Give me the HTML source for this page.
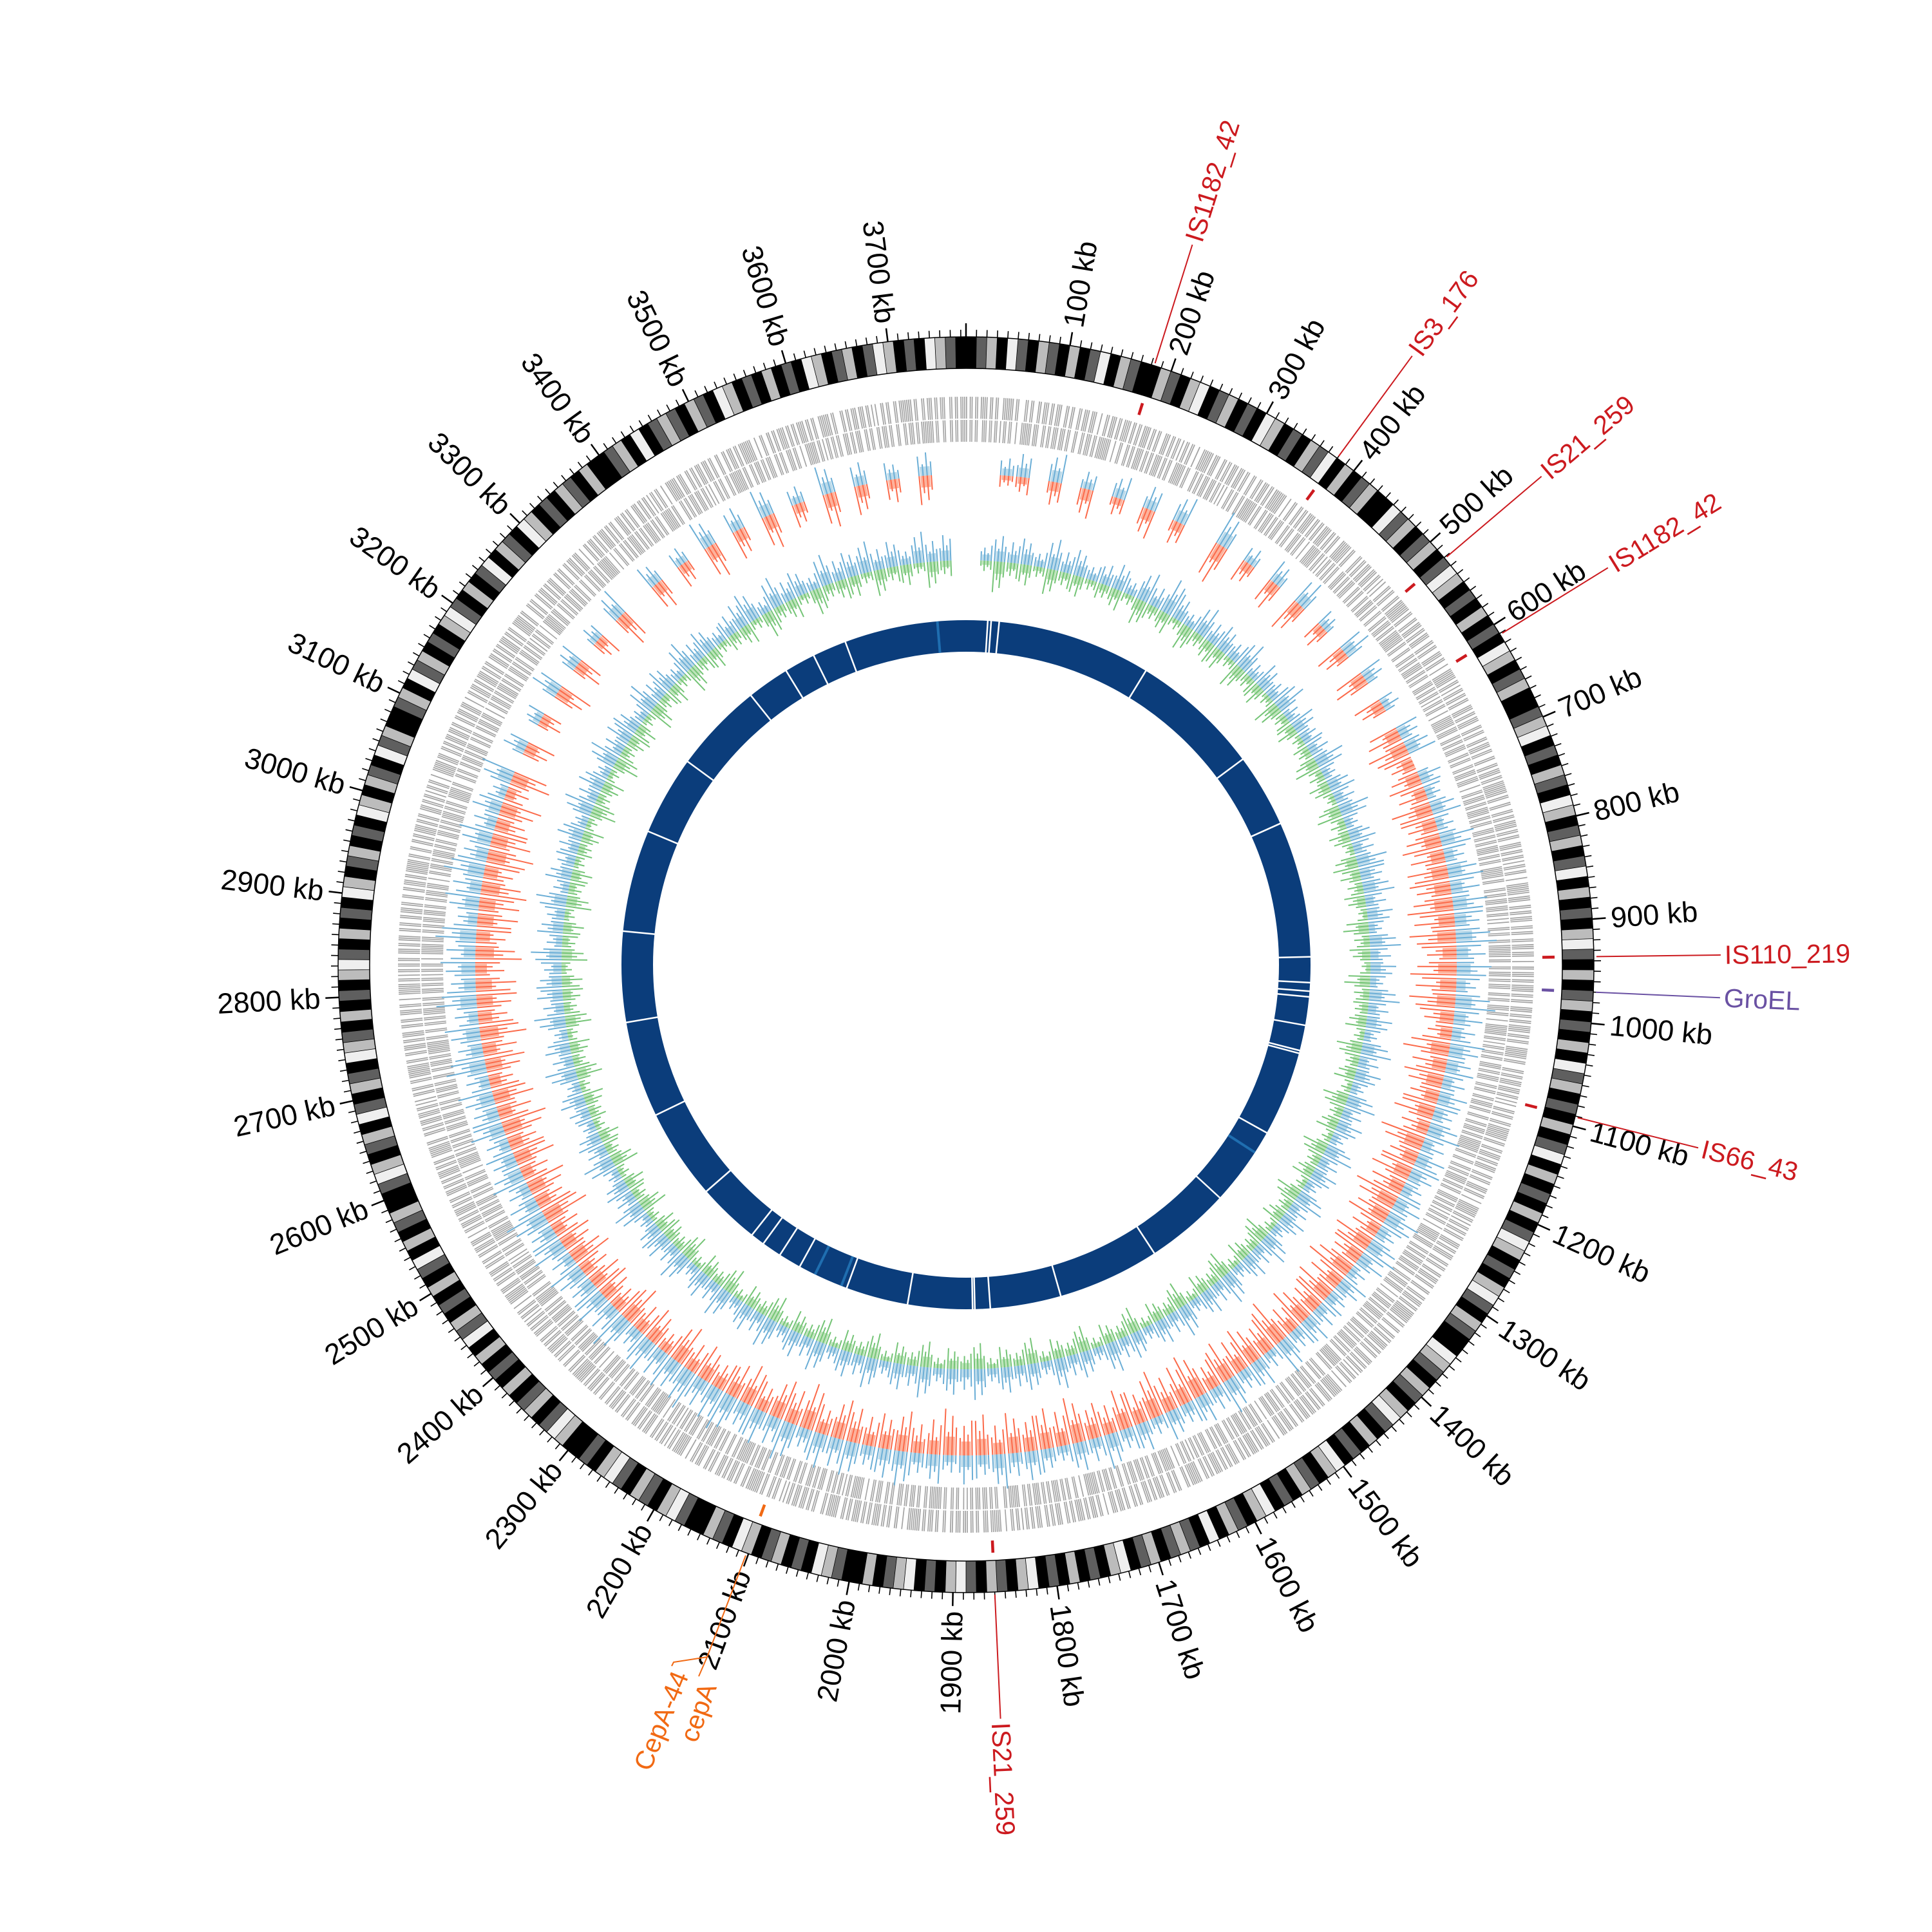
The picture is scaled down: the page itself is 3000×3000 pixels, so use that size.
<!DOCTYPE html>
<html>
<head>
<meta charset="utf-8">
<style>
html,body{margin:0;padding:0;background:#fff;}
svg{display:block;}
text{font-family:"Liberation Sans","DejaVu Sans",sans-serif;}
</style>
</head>
<body>
<svg id="chart" width="3000" height="3000" viewBox="0 0 3000 3000" xmlns="http://www.w3.org/2000/svg">
  <rect x="0" y="0" width="3000" height="3000" fill="#ffffff"/>
  <g id="band-ring"></g>
  <g id="tick-layer"></g>
  <g id="tick-labels"></g>
  <g id="gene-ring"></g>
  <g id="skew-ring"></g>
  <g id="gc-ring"></g>
  <g id="contig-ring"></g>
  <g id="feature-layer"></g>
</svg>
<script>
// ---------------- data ----------------
const genomeLen = 3775; // kb
const tickLabels = [100,200,300,400,500,600,700,800,900,1000,1100,1200,1300,1400,1500,1600,1700,1800,1900,2000,2100,2200,2300,2400,2500,2600,2700,2800,2900,3000,3100,3200,3300,3400,3500,3600,3700];
const bandLevels = "kdgkwdkgdkgkdwkgdkkgdkgwkdgkdkwgkdkgdwkgkdgkkwdgkdgkdwgkdkgk" +
  "dkwgkdgkkdgwkdkgdkwgkdgkdwkgkdkgwdkgkdgkdkgkwdgkdkgkdwkgkdkg" +
  "kdwgkdkgwdkgdkkwgdkgdkgwdkgkdkwgkdgkdkwgkdgkwkdgdkgdkwgkdkgk" +
  "dkwgkdgkdwgkdkwgdkgkkdgwkdkgdkgwkdgkkdwgkdgkdwgkdkkgwdkgdkgk" +
  "dkgkwdgkdkgkdwkgkdgkkdwgkdgkwdkgdkwgdkgkdkgwdkgkdkwgkdgkdkwg" +
  "kgdkwdgkkdgkwdgkdkgwdkgkdwkgdkwgkdkgdkgk" +
  "kdgkwkdgdkgdkwgkdkgkdkwgkdgkdwgkdkwgdk";
const geneFwd = "7685767587675867685776867586765867576867675866758676867586765867576867675867758676857675866758676857768675867658675768676758667586768675867658675768676758677586768576758667586768577686758677";
const geneRev = "6758676857768675867658675768676758667586768675867658675768676758677586768576758667586768577686758676586757686767586675867686758676586757686767586775867685767586675867685776867586765867576867";
const skewPos = "0034050304"+"0405006030"+"4050305040"+"3045043536"+"4656575647"+"5465454645"+"5456465354"+"4546354645"+"4535464534"+"5464535465"+"4656475657"+"6576564756"+"5646575465"+"4656475647"+"5657465756"+"4536040305"+"0403050040"+"3050405030"+"504030400";
const skewNeg = "0023040503"+"0504007040"+"5060405060"+"5067565767"+"6778786878"+"6586767586"+"7687576867"+"6758676758"+"7686756867"+"6757686576"+"5675867576"+"5657465756"+"6576586757"+"6867576867"+"7586778687"+"6747050406"+"0504060050"+"4060506040"+"605040500";
const gcPos = "0354536453"+"4536475364"+"5463546354"+"4635463546"+"5645364536"+"4536453645"+"3645364536"+"4536453645"+"3546354635"+"4536453645"+"3645364536"+"4536453645"+"5364536453"+"4536453645"+"5463546354"+"4536453645"+"5364536453"+"4563645364"+"564536450";
const gcNeg = "0263425342"+"3425342534"+"4253425342"+"3534253425"+"4342534253"+"3425342534"+"2534253425"+"3425342534"+"2534253425"+"3425342534"+"2534253425"+"3425342534"+"4253425342"+"3425342534"+"4253425342"+"3425342534"+"4253425342"+"3425342534"+"425342530";
const contigGaps = [38,44,58,330,560,690,930,975,990,1000,1050,1095,1100,1250,1390,1540,1720,1845,1872,1876,1990,2100,2190,2230,2265,2290,2400,2560,2730,2890,3070,3210,3370,3445,3500,3560];
const contigLight = [3725,1290,2110,2160];
const featureNames = ["IS1182_42","IS3_176","IS21_259","IS1182_42","IS110_219","GroEL","IS66_43","IS21_259"];
const featurePos = [183,380,521,611,936,970,1091,1860];
const featureColors = ["#cc1a1f","#cc1a1f","#cc1a1f","#cc1a1f","#cc1a1f","#6a51a3","#cc1a1f","#cc1a1f"];
const cepNames = ["CepA-44","cepA"];
const cepPos = [2102,2102];

// ---------------- geometry ----------------
const NS = "http://www.w3.org/2000/svg";
const CX = 1500, CY = 1498;
const R_BAND_IN = 926, R_BAND_OUT = 975;
const R_GENE_FWD = [848, 882], R_GENE_REV = [812, 846];
const SKEW_BASE = 762, SKEW_UNIT = 9;
const GC_BASE = 628, GC_UNIT = 8;
const R_CONTIG = [486, 535];

function A(kb){ return kb / genomeLen * 2 * Math.PI; }
function P(r, kb){ const a = A(kb); return [CX + r*Math.sin(a), CY - r*Math.cos(a)]; }
function f(n){ return n.toFixed(1); }
function arc(r0, r1, k0, k1){
  const large = (k1-k0)/genomeLen > 0.5 ? 1 : 0;
  const a = P(r1,k0), b = P(r1,k1), c = P(r0,k1), d = P(r0,k0);
  return `M${f(a[0])} ${f(a[1])}A${r1} ${r1} 0 ${large} 1 ${f(b[0])} ${f(b[1])}L${f(c[0])} ${f(c[1])}A${r0} ${r0} 0 ${large} 0 ${f(d[0])} ${f(d[1])}Z`;
}
function mk(tag, attrs, parent){
  const el = document.createElementNS(NS, tag);
  for (const k in attrs) el.setAttribute(k, attrs[k]);
  parent.appendChild(el);
  return el;
}
function radialLine(r0, r1, kb, stroke, w, parent){
  const a = P(r0,kb), b = P(r1,kb);
  return mk("line", {x1:f(a[0]), y1:f(a[1]), x2:f(b[0]), y2:f(b[1]), stroke:stroke, "stroke-width":w}, parent);
}

// ---------------- outer band ring ----------------
const bandG = document.getElementById("band-ring");
const bandColors = {k:"#000000", d:"#5f5f5f", g:"#bcbcbc", w:"#efefef"};
const bandStep = genomeLen / bandLevels.length;
for (let i = 0; i < bandLevels.length; i++){
  const p = mk("path", {d: arc(R_BAND_IN, R_BAND_OUT, i*bandStep, (i+1)*bandStep+0.2), fill: bandColors[bandLevels[i]], stroke:"#000", "stroke-width":"0.8"}, bandG);
  
  
}
for (const r of [R_BAND_IN, R_BAND_OUT]){
  const c = mk("circle", {cx:CX, cy:CY, r:r, fill:"none", stroke:"#000", "stroke-width":"1.5"}, bandG);
  
  
}

// ---------------- ticks ----------------
const tickG = document.getElementById("tick-layer");
for (let kb = 0; kb < genomeLen; kb += 10){
  const major = kb % 100 === 0;
  const t = radialLine(R_BAND_OUT, major ? 996 : 986, kb, "#000", major ? 2.5 : 1.6, tickG);
  
  
}
const labG = document.getElementById("tick-labels");
for (const t of tickLabels){
  const deg = t / genomeLen * 360;
  const p = P(1004, t);
  const right = deg < 180;
  const rot = right ? deg - 90 : deg + 90;
  const tx = mk("text", {x:f(p[0]), y:f(p[1]), "font-size":"45", fill:"#000", "text-anchor": right ? "start" : "end", "dominant-baseline":"central", transform:`rotate(${f(rot)} ${f(p[0])} ${f(p[1])})`}, labG);
  tx.textContent = t + " kb";
  
  
}

// ---------------- gene ring (striped) ----------------
const geneG = document.getElementById("gene-ring");
function drawLane(str, rr, name){
  const step = genomeLen / str.length;
  for (let i = 0; i < str.length; i++){
    const v = +str[i];
    if (!v) continue;
    const sub = step / 10;
    for (let j = 0; j < 10; j++){
      if (j >= v) continue;
      const jj = (j * 3 + i) % 10;
      const p = mk("path", {d: arc(rr[0], rr[1], i*step + jj*sub, i*step + jj*sub + sub*0.6), fill:"#a3a3a3"}, geneG);
      
      
    }
  }
}
drawLane(geneFwd, R_GENE_FWD, 'forward-gene-bin');
drawLane(geneRev, R_GENE_REV, 'reverse-gene-bin');

// ---------------- spike tracks ----------------
function drawSpikes(posStr, negStr, base, unit, posCol, posLight, negCol, negLight, g, nameP, nameN){
  const n = posStr.length;
  const step = genomeLen / n;
  const fr = [0.12, 0.37, 0.62, 0.87];
  const sc = [1.0, 0.6, 0.85, 0.5];
  for (let i = 0; i < n; i++){
    const k0 = i*step, k1 = (i+1)*step;
    const vp = +posStr[i], vn = +negStr[i];
    if (vp){
      const w = mk("path", {d: arc(base, base + vp*unit*0.4, k0+step*0.2, k1-step*0.2), fill:posLight, "fill-opacity":"0.7"}, g);
      
      
      for (let j = 0; j < 4; j++){
        const s = radialLine(base, base + vp*unit*sc[(j+i)%4], k0 + step*fr[j], posCol, 2, g);
        
        
      }
    }
    if (vn){
      const w = mk("path", {d: arc(base - vn*unit*0.4, base, k0+step*0.2, k1-step*0.2), fill:negLight, "fill-opacity":"0.7"}, g);
      
      
      for (let j = 0; j < 4; j++){
        const s = radialLine(base - vn*unit*sc[(j+i+2)%4], base, k0 + step*fr[j], negCol, 2, g);
        
        
      }
    }
  }
}
drawSpikes(skewPos, skewNeg, SKEW_BASE, SKEW_UNIT, "#6baed6", "#9ecae1", "#fb6a4a", "#fc9272", document.getElementById("skew-ring"), 'skew-positive-bar', 'skew-negative-bar');
drawSpikes(gcPos, gcNeg, GC_BASE, GC_UNIT, "#6baed6", "#9ecae1", "#74c476", "#a1d99b", document.getElementById("gc-ring"), 'gc-above-bar', 'gc-below-bar');

// ---------------- contig ring ----------------
const contigG = document.getElementById("contig-ring");
const ring = mk("path", {d: arc(R_CONTIG[0], R_CONTIG[1], 0, genomeLen*0.5) + arc(R_CONTIG[0], R_CONTIG[1], genomeLen*0.5, genomeLen), fill:"#0b3d7b"}, contigG);


for (const kb of contigGaps){
  const l = radialLine(R_CONTIG[0]-1, R_CONTIG[1]+1, kb, "#ffffff", 2.5, contigG);
  
  
}
for (const kb of contigLight){
  const l = radialLine(R_CONTIG[0], R_CONTIG[1], kb, "#1f6eb0", 4, contigG);
  
  
}

// ---------------- features ----------------
const featG = document.getElementById("feature-layer");
for (let i = 0; i < featureNames.length; i++){
  const kb = featurePos[i], col = featureColors[i];
  const deg = kb / genomeLen * 360;
  const m = mk("path", {d: arc(895, 914, kb-1.5, kb+1.5), fill:col}, featG);
  
  
  const l = radialLine(979, 1172, kb, col, 2, featG);
  
  
  const p = P(1178, kb);
  const right = deg < 180;
  const rot = right ? deg - 90 : deg + 90;
  const tx = mk("text", {x:f(p[0]), y:f(p[1]), "font-size":"41", fill:col, "text-anchor": right ? "start" : "end", "dominant-baseline":"central", transform:`rotate(${f(rot)} ${f(p[0])} ${f(p[1])})`}, featG);
  tx.textContent = featureNames[i];
  
  
}
{
  const col = "#f16913";
  const a = P(979, cepPos[0]);
  const kink = [1098, 2573];
  const pl = mk("polyline", {points:`${f(a[0])},${f(a[1])} ${kink[0]},${kink[1]} 1085,2603`, fill:"none", stroke:col, "stroke-width":"2"}, featG);
  
  
  const pl2 = mk("polyline", {points:`${kink[0]},${kink[1]} 1046,2581 1043,2587`, fill:"none", stroke:col, "stroke-width":"2"}, featG);
  
  
  const ends = [[1057,2597,202.0],[1100,2615,199.7]];
  for (let j = 0; j < cepNames.length; j++){
    const e = ends[j];
    const tx = mk("text", {x:e[0], y:e[1], "font-size":"41", fill:col, "text-anchor":"end", "dominant-baseline":"central", transform:`rotate(${f(e[2]+90)} ${e[0]} ${e[1]})`}, featG);
    tx.textContent = cepNames[j];
    
    
  }
  const m = mk("path", {d: arc(895, 914, cepPos[0]-1.5, cepPos[0]+1.5), fill:col}, featG);
  
  
}
</script>
</body>
</html>
